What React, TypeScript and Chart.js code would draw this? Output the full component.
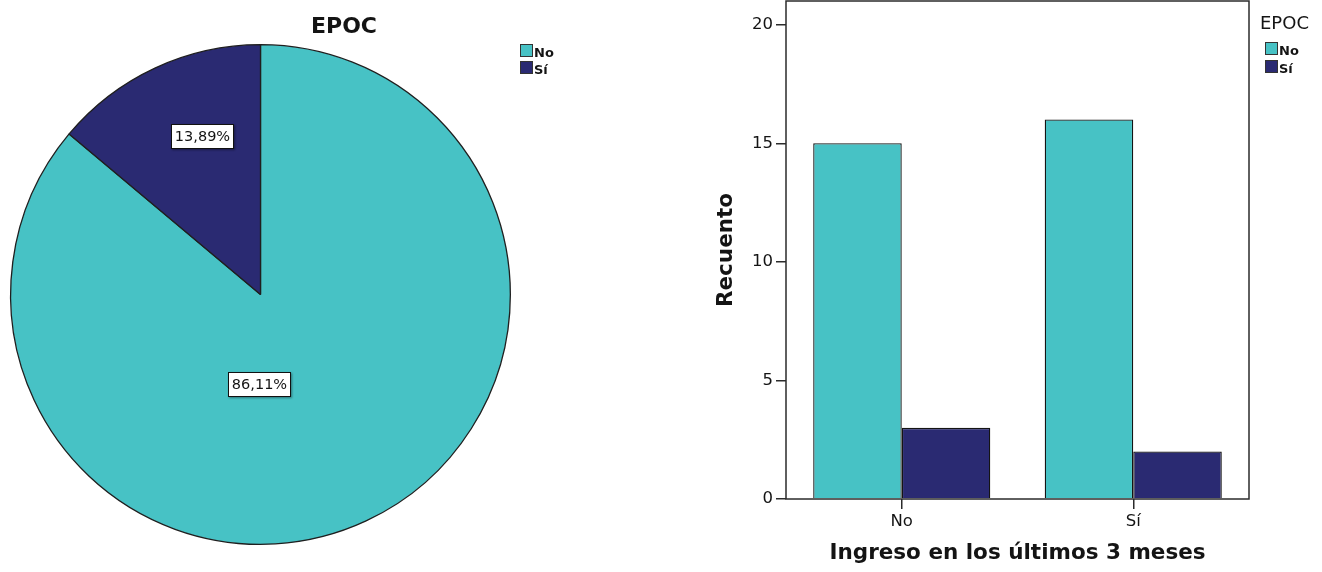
import React, { useEffect, useRef } from 'react';
import { Chart, registerables } from 'chart.js';

Chart.register(...registerables);

// ---- data ----
const epocCategories = ['No', 'Sí'];
const epocCounts = [31, 5];

const ingresoCategories = ['No', 'Sí'];
const countsEpocNo = [15, 16];
const countsEpocSi = [3, 2];
const yTickValues = [0, 5, 10, 15, 20];

const pieTitle = 'EPOC';
const legendTitle = 'EPOC';
const xTitle = 'Ingreso en los últimos 3 meses';
const yTitle = 'Recuento';

// ---- style ----
const TEAL = '#47C2C5';
const NAVY = '#2A2A72';
const EDGE = '#2b2b2b';
const TEXT = '#141414';
const FONT = '"DejaVu Sans", "Liberation Sans", sans-serif';

function drawLegendItems(
  ctx: CanvasRenderingContext2D,
  x: number,
  boxTops: number[],
  items: { label: string; color: string }[]
) {
  items.forEach((it, i) => {
    const top = boxTops[i];
    ctx.fillStyle = it.color;
    ctx.fillRect(x, top, 13, 13);
    ctx.strokeStyle = '#333';
    ctx.lineWidth = 1;
    ctx.strokeRect(x + 0.5, top + 0.5, 12, 12);
    ctx.fillStyle = TEXT;
    ctx.font = `bold 13px ${FONT}`;
    ctx.textAlign = 'left';
    ctx.textBaseline = 'alphabetic';
    ctx.fillText(it.label, x + 14, top + 13);
  });
}

const pieDecor = {
  id: 'pieDecor',
  afterDraw(chart: any) {
    const ctx: CanvasRenderingContext2D = chart.ctx;
    const meta = chart.getDatasetMeta(0);
    const ds = chart.data.datasets[0];
    const data: number[] = ds.data;
    const total = data.reduce((a, b) => a + b, 0);
    // label placement: angular shift (deg) from the slice mid-angle and radius fraction
    const place = [
      { shift: 25.6, r: 0.361 },
      { shift: 5, r: 0.675 },
    ];
    ctx.save();
    meta.data.forEach((arc: any, i: number) => {
      const { x, y, startAngle, endAngle, outerRadius } = arc.getProps(
        ['x', 'y', 'startAngle', 'endAngle', 'outerRadius'],
        true
      );
      const mid = (startAngle + endAngle) / 2 + (place[i].shift * Math.PI) / 180;
      const lx = x + Math.cos(mid) * outerRadius * place[i].r;
      const ly = y + Math.sin(mid) * outerRadius * place[i].r;
      const text = ((data[i] / total) * 100).toFixed(2).replace('.', ',') + '%';
      ctx.font = `14.5px ${FONT}`;
      const w = Math.round(ctx.measureText(text).width + 8);
      const h = 25;
      const bx = Math.round(lx - w / 2);
      const by = Math.round(ly - h / 2);
      ctx.save();
      ctx.shadowColor = 'rgba(0,0,0,0.4)';
      ctx.shadowOffsetX = 1;
      ctx.shadowOffsetY = 1;
      ctx.shadowBlur = 2;
      ctx.fillStyle = '#fff';
      ctx.fillRect(bx, by, w, h);
      ctx.restore();
      ctx.strokeStyle = '#111';
      ctx.lineWidth = 1;
      ctx.strokeRect(bx + 0.5, by + 0.5, w - 1, h - 1);
      ctx.fillStyle = TEXT;
      ctx.textAlign = 'center';
      ctx.textBaseline = 'middle';
      ctx.fillText(text, bx + w / 2, by + h / 2 + 1);
    });
    // title
    ctx.fillStyle = TEXT;
    ctx.font = `bold 22px ${FONT}`;
    ctx.textAlign = 'center';
    ctx.textBaseline = 'alphabetic';
    ctx.fillText(pieTitle, 344, 33);
    // legend
    drawLegendItems(
      ctx,
      520,
      [44, 61],
      chart.data.labels.map((l: string, i: number) => ({ label: l, color: ds.backgroundColor[i] }))
    );
    ctx.restore();
  },
};

const barDecor = {
  id: 'barDecor',
  afterDraw(chart: any) {
    const ctx: CanvasRenderingContext2D = chart.ctx;
    const { left, right, top, bottom } = chart.chartArea;
    ctx.save();
    ctx.strokeStyle = EDGE;
    ctx.lineWidth = 1.5;
    ctx.strokeRect(left, top, right - left, bottom - top);
    // legend
    ctx.fillStyle = TEXT;
    ctx.font = `18px ${FONT}`;
    ctx.textAlign = 'left';
    ctx.textBaseline = 'alphabetic';
    ctx.fillText(legendTitle, 600, 29);
    drawLegendItems(
      ctx,
      605,
      [42, 60],
      chart.data.datasets.map((d: any) => ({ label: d.label, color: d.backgroundColor }))
    );
    ctx.restore();
  },
};

export default function App() {
  const pieRef = useRef<HTMLCanvasElement>(null);
  const barRef = useRef<HTMLCanvasElement>(null);

  useEffect(() => {
    const pie = new Chart(pieRef.current as HTMLCanvasElement, {
      type: 'pie',
      data: {
        labels: epocCategories,
        datasets: [
          {
            data: epocCounts,
            backgroundColor: [TEAL, NAVY],
            borderColor: '#1f1f1f',
            borderWidth: 1.3,
          },
        ],
      },
      options: {
        responsive: false,
        animation: false,
        devicePixelRatio: 1,
        layout: { padding: { left: 10, top: 44, right: 149, bottom: 27 } },
        plugins: {
          legend: { display: false },
          title: { display: false },
          tooltip: { enabled: false },
        },
      },
      plugins: [pieDecor],
    } as any);

    const bar = new Chart(barRef.current as HTMLCanvasElement, {
      type: 'bar',
      data: {
        labels: ingresoCategories,
        datasets: [
          {
            label: 'No',
            data: countsEpocNo,
            backgroundColor: TEAL,
            borderColor: '#141414',
            borderWidth: 1.3,
            categoryPercentage: 0.765,
            barPercentage: 1,
          },
          {
            label: 'Sí',
            data: countsEpocSi,
            backgroundColor: NAVY,
            borderColor: '#141414',
            borderWidth: 1.3,
            categoryPercentage: 0.765,
            barPercentage: 1,
          },
        ],
      },
      options: {
        responsive: false,
        animation: false,
        devicePixelRatio: 1,
        layout: { padding: { left: 54, right: 73, top: 1, bottom: 0 } },
        plugins: {
          legend: { display: false },
          title: { display: false },
          tooltip: { enabled: false },
        },
        scales: {
          x: {
            type: 'category',
            offset: true,
            grid: {
              offset: false,
              drawOnChartArea: false,
              drawTicks: true,
              tickLength: 10,
              color: EDGE,
              lineWidth: 1.5,
            },
            border: { display: false },
            ticks: {
              color: TEXT,
              font: { family: FONT, size: 16.5 },
              padding: 3,
              maxRotation: 0,
            },
            title: {
              display: true,
              text: xTitle,
              color: TEXT,
              font: { family: FONT, size: 21.5, weight: 'bold' },
              padding: { top: 0, bottom: 6 },
            },
            afterFit: (s: any) => {
              s.height = 73;
              s.paddingLeft = 0;
              s.paddingRight = 0;
            },
          },
          y: {
            min: 0,
            max: 21,
            grid: {
              drawOnChartArea: false,
              drawTicks: true,
              tickLength: 10,
              color: EDGE,
              lineWidth: 1.5,
            },
            border: { display: false },
            ticks: {
              color: TEXT,
              font: { family: FONT, size: 16.5 },
              padding: 3,
              includeBounds: false,
            },
            afterBuildTicks: (s: any) => {
              s.ticks = yTickValues.map((v) => ({ value: v }));
            },
            title: {
              display: true,
              text: yTitle,
              color: TEXT,
              font: { family: FONT, size: 21.5, weight: 'bold' },
              padding: { top: 0, bottom: 0 },
            },
            afterFit: (s: any) => {
              s.width = 72;
              s.paddingTop = 0;
              s.paddingBottom = 0;
            },
          },
        },
      },
      plugins: [barDecor],
    } as any);

    return () => {
      pie.destroy();
      bar.destroy();
    };
  }, []);

  return (
    <div
      style={{
        position: 'fixed',
        left: 0,
        top: 0,
        width: 1322,
        height: 572,
        background: '#fff',
      }}
    >
      <canvas
        ref={pieRef}
        width={660}
        height={572}
        style={{ position: 'absolute', left: 0, top: 0, width: 660, height: 572 }}
      />
      <canvas
        ref={barRef}
        width={662}
        height={572}
        style={{ position: 'absolute', left: 660, top: 0, width: 662, height: 572 }}
      />
    </div>
  );
}
